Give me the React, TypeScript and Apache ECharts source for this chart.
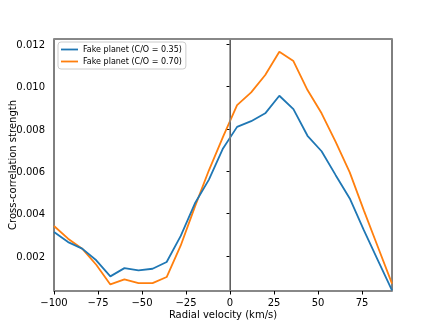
import React, { useEffect, useRef } from "react";
import * as echarts from "echarts";

const velocities = [-100, -92, -84, -76, -68, -60, -52, -44, -36, -28, -20, -12, -4, 4, 12, 20, 28, 36, 44, 52, 60, 68, 76, 84, 92];
const planet035 = [0.00314, 0.00266, 0.00235, 0.0018, 0.00104, 0.00143, 0.00132, 0.0014, 0.00172, 0.00295, 0.00448, 0.00561, 0.00708, 0.0081, 0.00837, 0.00874, 0.00957, 0.00894, 0.00768, 0.00695, 0.00582, 0.00472, 0.00322, 0.0018, 0.00038];
const planet070 = [0.00342, 0.00282, 0.00235, 0.00159, 0.00066, 0.0009, 0.00072, 0.00072, 0.00101, 0.0025, 0.00432, 0.00605, 0.00763, 0.00913, 0.00973, 0.01055, 0.01165, 0.01121, 0.00984, 0.00874, 0.00739, 0.00595, 0.00416, 0.00243, 0.0007];
const yTicks = [0.002, 0.004, 0.006, 0.008, 0.01, 0.012];
const seriesNames = ["Fake planet (C/O = 0.35)", "Fake planet (C/O = 0.70)"];

const FONT = "DejaVu Sans";

export default function App() {
  const ref = useRef<HTMLDivElement>(null);
  useEffect(() => {
    if (!ref.current) return;
    const chart = echarts.init(ref.current, undefined, { renderer: "svg" });
    const fmtX = (v: number) => (v < 0 ? "\u2212" + Math.abs(v) : String(v));
    chart.setOption({
      animation: false,
      grid: {
        left: 54,
        right: 44,
        top: 39,
        bottom: 36,
        show: true,
        borderColor: "#000",
        borderWidth: 1,
        containLabel: false,
        outerBoundsMode: "none",
      },
      legend: {
        orient: "vertical",
        left: 58,
        top: 42,
        icon: "rect",
        itemWidth: 17,
        itemHeight: 1.8,
        itemGap: 3,
        padding: [3, 4, 3, 3],
        borderColor: "#cccccc",
        borderWidth: 1,
        borderRadius: 3,
        backgroundColor: "rgba(255,255,255,0.8)",
        textStyle: { fontFamily: FONT, fontSize: 8, lineHeight: 9, color: "#000" },
        data: seriesNames,
      },
      xAxis: [
        {
          type: "value",
          min: -100,
          max: 92,
          interval: 25,
          name: "Radial velocity (km/s)",
          nameLocation: "middle",
          nameGap: 18,
          nameMoveOverlap: false,
          nameTextStyle: { fontFamily: FONT, fontSize: 10, color: "#000" },
          axisLine: { show: true, lineStyle: { color: "#888888", width: 2 } },
          axisTick: { show: true, length: 3.5, lineStyle: { color: "#000" } },
          axisLabel: { fontFamily: FONT, fontSize: 10, color: "#000", margin: 6, formatter: fmtX, showMaxLabel: false },
          splitLine: { show: false },
        },
        {
          type: "value",
          position: "top",
          min: -100,
          max: 92,
          axisLine: { show: true, lineStyle: { color: "#888888", width: 2 } },
          axisTick: { show: false },
          axisLabel: { show: false },
          splitLine: { show: false },
        },
      ],
      yAxis: {
        type: "value",
        min: 0.00035,
        max: 0.01225,
        name: "Cross-correlation strength",
        nameLocation: "middle",
        nameGap: 37,
        nameMoveOverlap: false,
        nameTextStyle: { fontFamily: FONT, fontSize: 10, color: "#000" },
        axisLine: { show: true, lineStyle: { color: "#000", width: 1 } },
        axisTick: { show: true, length: 3.5, lineStyle: { color: "#000" }, customValues: yTicks },
        axisLabel: {
          fontFamily: FONT,
          fontSize: 10,
          color: "#000",
          margin: 9,
          customValues: yTicks,
          formatter: (v: number) => v.toFixed(3),
        },
        splitLine: { show: false },
      },
      series: [
        {
          name: seriesNames[0],
          type: "line",
          symbol: "none",
          data: velocities.map((x, i) => [x, planet035[i]]),
          lineStyle: { color: "#1f77b4", width: 1.8 },
          itemStyle: { color: "#1f77b4" },
          markLine: {
            silent: true,
            symbol: "none",
            label: { show: false },
            lineStyle: { color: "#808080", width: 1.5, type: "solid" },
            data: [{ xAxis: 0 }],
          },
          z: 3,
        },
        {
          name: seriesNames[1],
          type: "line",
          symbol: "none",
          data: velocities.map((x, i) => [x, planet070[i]]),
          lineStyle: { color: "#ff7f0e", width: 1.8 },
          itemStyle: { color: "#ff7f0e" },
          z: 2,
        },
      ],
    });
    return () => chart.dispose();
  }, []);
  return <div ref={ref} style={{ position: "fixed", left: 0, top: 0, width: 436, height: 327 }} />;
}
